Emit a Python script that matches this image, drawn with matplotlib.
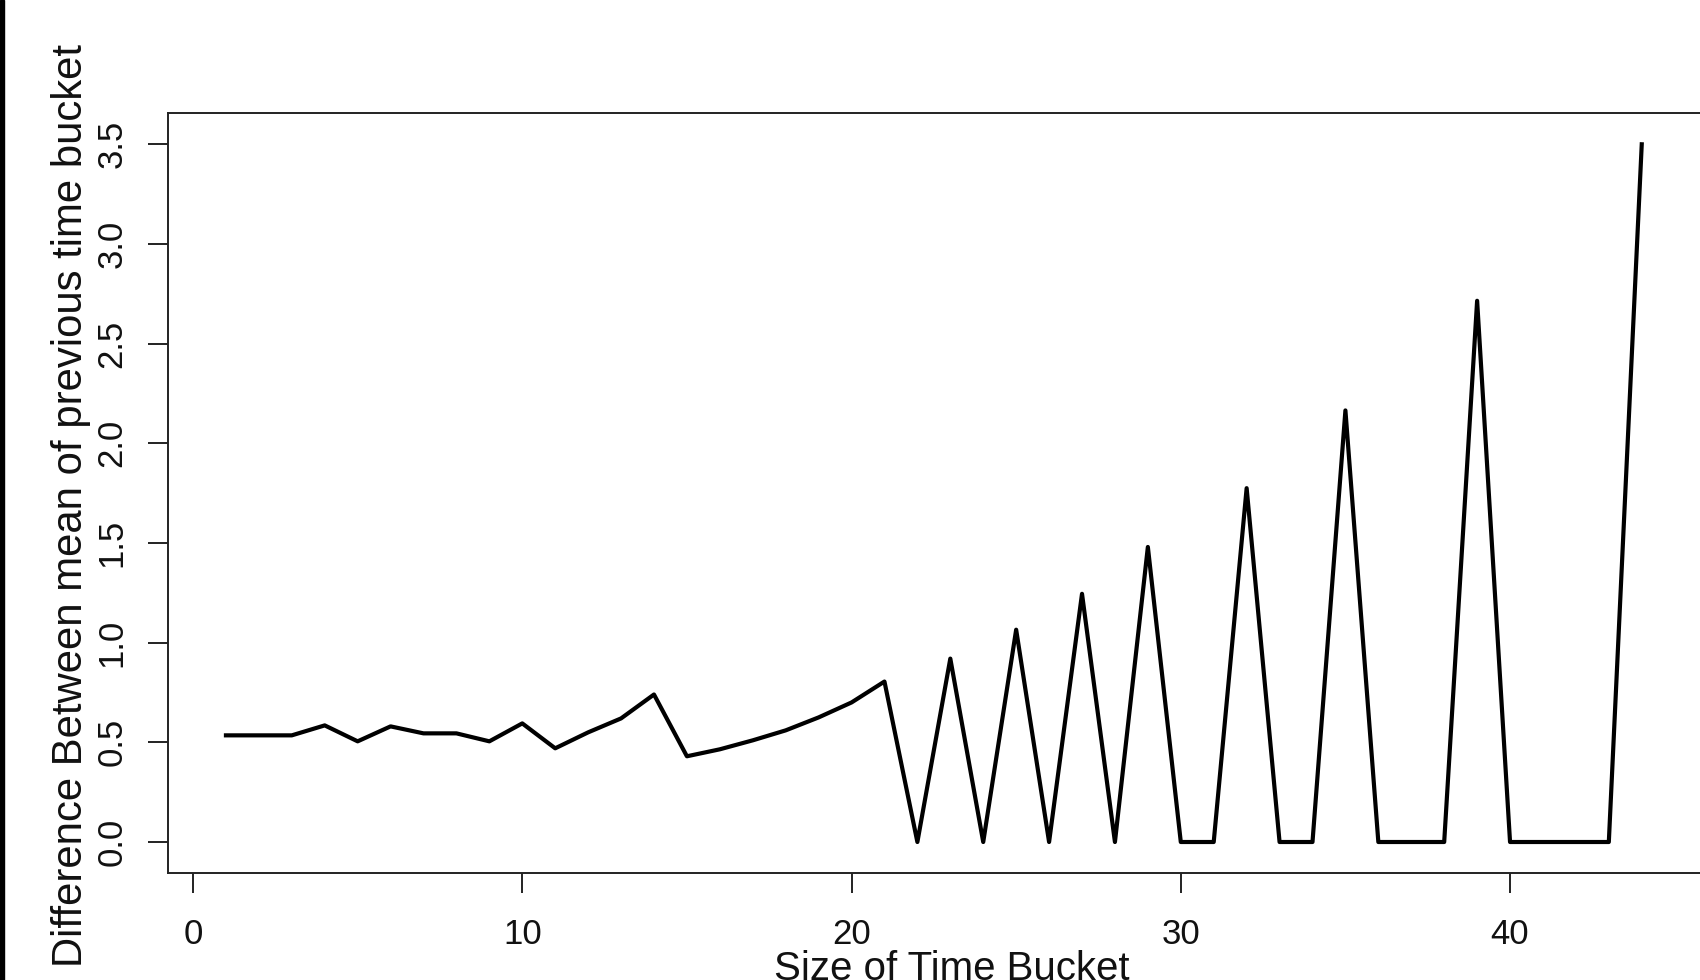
import numpy as np
import matplotlib
matplotlib.use("Agg")
import matplotlib.pyplot as plt
from matplotlib.patches import Rectangle

# difference between mean of previous time bucket, per bucket size
bucket_size = list(range(1, 45))
mean_diff = [0.535, 0.535, 0.535, 0.585, 0.505, 0.580, 0.545, 0.545, 0.505, 0.595,
             0.470, 0.550, 0.620, 0.740, 0.430, 0.465, 0.510, 0.560, 0.625, 0.700,
             0.805, 0.0, 0.920, 0.0, 1.065, 0.0, 1.245, 0.0, 1.480, 0.0,
             0.0, 1.775, 0.0, 0.0, 2.165, 0.0, 0.0, 0.0, 2.715, 0.0,
             0.0, 0.0, 0.0, 3.500]

xticks = [0, 10, 20, 30, 40]
yticks = [0.0, 0.5, 1.0, 1.5, 2.0, 2.5, 3.0, 3.5]

plt.rcParams['font.family'] = ['Liberation Sans', 'DejaVu Sans']

fig = plt.figure(figsize=(17, 9.8), dpi=100)
ax = fig.add_axes([168/1700, 107/980, 1534/1700, 760/980])

ax.plot(bucket_size, mean_diff, color="black", linewidth=3.0,
        solid_joinstyle="round")

ax.set_xlim(-0.76, 45.83)
ax.set_ylim(-0.1555, 3.657)

ax.set_xticks(xticks)
ax.set_xticklabels([str(t) for t in xticks])
ax.set_yticks(yticks)
ax.set_yticklabels(["%.1f" % t for t in yticks], rotation=90, va="center")

ax.tick_params(axis="both", length=14.4, width=1.4, color="#222222",
               labelsize=25, labelcolor="#111111")
ax.tick_params(axis="x", pad=18)
ax.tick_params(axis="y", pad=14)

for s in ax.spines.values():
    s.set_linewidth(1.4)
    s.set_color("#222222")

ax.set_xlabel("Size of Time Bucket", fontsize=29, color="#111111")
ax.xaxis.set_label_coords(0.511, -0.101)
ax.set_ylabel("Difference Between mean of previous time bucket",
              fontsize=30.2, color="#111111")
ax.yaxis.set_label_coords(-0.0505, 0.483)

# dark strip along the left edge of the screenshot
fig.patches.append(Rectangle((0, 0), 4/1700, 1, transform=fig.transFigure,
                             color="black", zorder=10))

fig.savefig("out.png", dpi=100)
